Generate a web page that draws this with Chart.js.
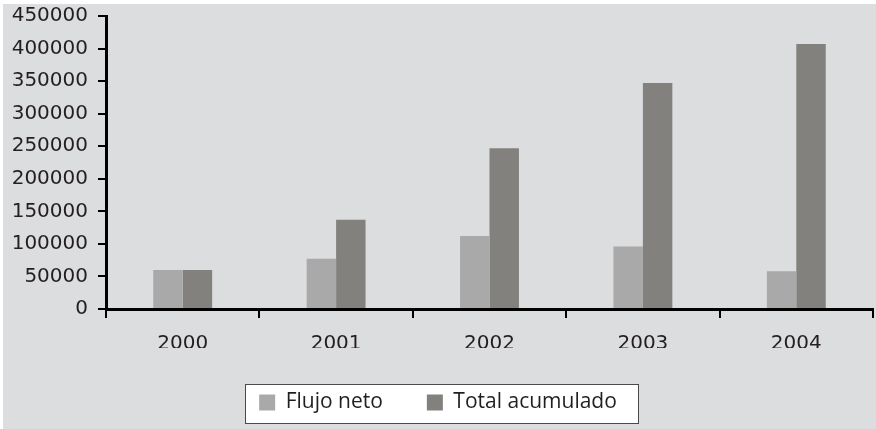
<!DOCTYPE html>
<html>
<head>
<meta charset="utf-8">
<script src="https://cdn.jsdelivr.net/npm/chart.js@4"></script>
<style>
    body { margin: 0; background: #fff; }
    #wrap { width: 876px; height: 429px; }
</style>
</head>
<body>
<div id="wrap"><canvas id="chart"></canvas></div>
<script>
const years = ["2000", "2001", "2002", "2003", "2004"];
const flujoNeto = [60000, 77000, 112000, 96000, 58000];
const totalAcumulado = [60000, 137000, 247000, 347000, 407000];
const seriesNames = ["Flujo neto", "Total acumulado"];

const tickFont = "'DejaVu Sans', sans-serif";
const legendFont = "'Open Sans', sans-serif";
const textColor = "#231f20";

// grey panel + white box behind the legend
const background = {
    id: "background",
    beforeDraw(chart) {
        const ctx = chart.ctx;
        ctx.save();
        ctx.fillStyle = "#fff";
        ctx.fillRect(0, 0, chart.width, chart.height);
        ctx.fillStyle = "#dcdddf";
        ctx.fillRect(3, 4, chart.width - 3, chart.height - 4);
        const boxes = chart.legend.legendHitBoxes;
        if (boxes && boxes.length) {
            const first = boxes[0];
            const last = boxes[boxes.length - 1];
            const x0 = Math.round(first.left - 14);
            const x1 = Math.round(last.left + last.width + 21);
            const yc = Math.round(first.top + first.height / 2);
            ctx.fillStyle = "#fff";
            ctx.fillRect(x0, yc - 19, x1 - x0, 39);
            ctx.strokeStyle = "#4a4a4a";
            ctx.lineWidth = 1;
            ctx.strokeRect(x0 + 0.5, yc - 19 + 0.5, x1 - x0, 39);
        }
        ctx.restore();
    }
};

new Chart(document.getElementById("chart"), {
    type: "bar",
    data: {
        labels: years,
        datasets: [
            { label: seriesNames[0], data: flujoNeto, backgroundColor: "#a9a9a9" },
            { label: seriesNames[1], data: totalAcumulado, backgroundColor: "#83817e" }
        ]
    },
    options: {
        responsive: true,
        maintainAspectRatio: false,
        animation: false,
        layout: { padding: { left: 3, right: 3, top: 16, bottom: 6 } },
        datasets: { bar: { categoryPercentage: 0.384, barPercentage: 1 } },
        plugins: {
            legend: {
                position: "bottom",
                labels: {
                    color: textColor,
                    font: { family: legendFont, size: 21 },
                    boxWidth: 16,
                    boxHeight: 16,
                    padding: 44
                }
            },
            tooltip: { enabled: false }
        },
        scales: {
            x: {
                grid: { display: true, drawOnChartArea: false, drawTicks: true, tickLength: 9, color: "#000", lineWidth: 2 },
                border: { display: true, color: "#000", width: 3 },
                ticks: { color: textColor, font: { family: tickFont, size: 20 }, padding: 14 },
                afterFit(scale) { scale.height = 39; }
            },
            y: {
                min: 0,
                max: 450000,
                grid: { display: true, drawOnChartArea: false, drawTicks: true, tickLength: 8, color: "#000", lineWidth: 2 },
                border: { display: true, color: "#000", width: 3 },
                ticks: {
                    stepSize: 50000,
                    color: textColor,
                    font: { family: tickFont, size: 20, lineHeight: 1 },
                    padding: 10,
                    callback: v => String(v)
                },
                afterFit(scale) {
                    scale.width = 103;
                    scale.paddingTop = 0;
                    scale.paddingBottom = 0;
                }
            }
        }
    },
    plugins: [background]
});
</script>
</body>
</html>
